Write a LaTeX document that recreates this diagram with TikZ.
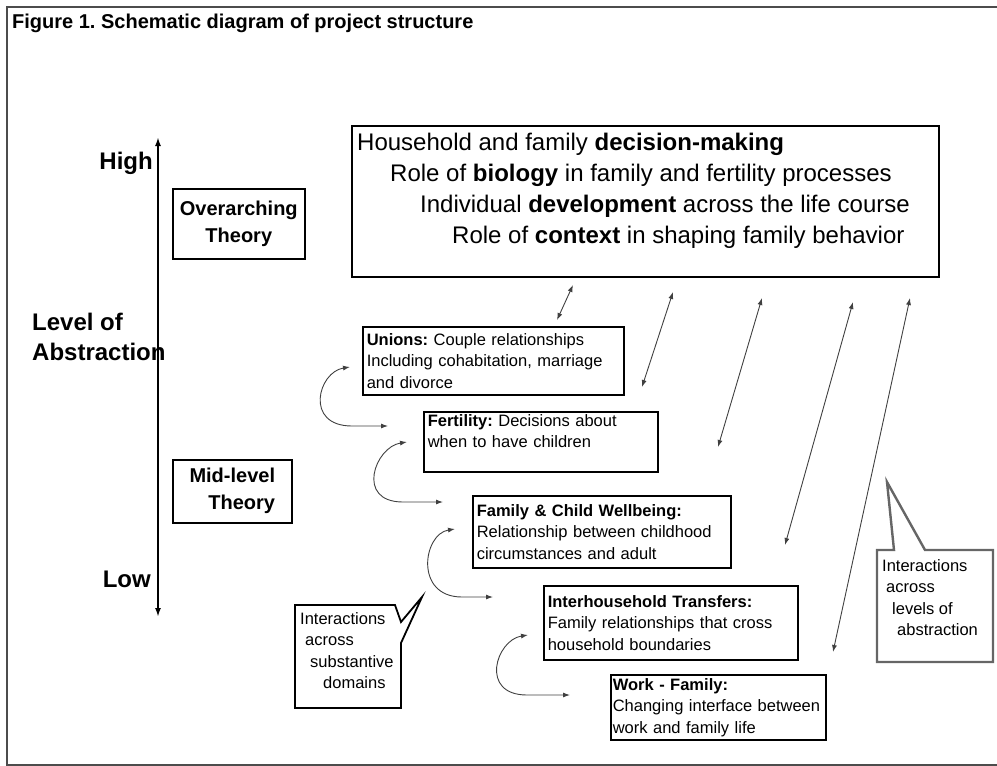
\documentclass[tikz,border=0pt]{standalone}
\usepackage{fontspec}
\setmainfont{Liberation Sans}
\usetikzlibrary{positioning, arrows.meta}
\frenchspacing

\tikzset{
  box/.style={draw, line width=1.6pt, anchor=north west, align=left, inner xsep=4pt, inner ysep=0pt, font=\fontsize{16.5}{21.5}\selectfont},
  levelbox/.style={draw, line width=1.6pt, anchor=north west, inner sep=0pt, font=\bfseries\fontsize{20}{27}\selectfont},
  axislabel/.style={font=\bfseries\fontsize{24}{30}\selectfont, inner sep=0pt},
  link/.style={<->, >={Latex[length=7pt,width=5pt]}, line width=0.9pt, black!75},
  callout/.style={line width=1.8pt},
  callouttext/.style={anchor=north west, inner sep=0pt, align=left, font=\fontsize{16.5}{21.5}\selectfont},
}

\begin{document}
\begin{tikzpicture}[x=1pt, y=-1pt]
\useasboundingbox (0,0) rectangle (997,766);

% frame and title
\draw[line width=1.5pt, black!70] (997,7) -- (7,7) -- (7,765) -- (997,765);
\node[anchor=base west, inner sep=0pt, font=\bfseries\fontsize{20}{24}\selectfont] (title) at (12,28) {Figure 1. Schematic diagram of project structure};

% level axis
\coordinate (axtop) at (158,137);
\coordinate (axbot) at (158,617);
\draw[<->, >={Latex[length=9pt,width=6pt]}, line width=1.8pt] (axbot) -- (axtop);
\node[axislabel, anchor=base east] (high) at (153,169) {High};
\node[axislabel, anchor=base east] (low) at (151,587) {Low};
\node[axislabel, anchor=north west, align=left] (abstr) at (32,313) {Level of\\Abstraction};

\node[levelbox, minimum width=132pt, minimum height=70pt, align=center] (over) at (172,188) {Overarching\\Theory};
\node[levelbox, minimum width=119pt, minimum height=63pt, align=right] (mid) at (172,459) {Mid-level\\Theory};

% overarching theory
\node[draw, line width=2pt, anchor=north west, minimum width=587pt, minimum height=151pt, inner sep=0pt] (theory) at (351,125) {};
\node[below right=8pt and 6pt of theory.north west, anchor=north west, inner sep=0pt, align=left, font=\fontsize{24}{31}\selectfont] (theorytext) {Household and family \textbf{decision-making}\\
  \hspace*{33pt}Role of \textbf{biology} in family and fertility processes\\
  \hspace*{63pt}Individual \textbf{development} across the life course\\
  \hspace*{95pt}Role of \textbf{context} in shaping family behavior};

% substantive domains
\node[box, text width=253pt, minimum height=68pt] (unions) at (362,326) {\textbf{Unions:} Couple relationships\\Including cohabitation, marriage\\and divorce};
\node[box, text width=226pt, minimum height=60pt] (fertility) at (423,411) {\textbf{Fertility:} Decisions about\\when to have children\\\mbox{}};
\node[box, text width=250pt, minimum height=72pt] (wellbeing) at (472,495) {\textbf{Family \& Child Wellbeing:}\\Relationship between childhood\\circumstances and adult};
\node[box, text width=246pt, minimum height=74pt] (transfers) at (543,585) {\textbf{Interhousehold Transfers:}\\Family relationships that cross\\household boundaries};
\node[box, inner xsep=2pt, text width=211pt, minimum height=65pt] (work) at (610,674) {\textbf{Work - Family:}\\\mbox{Changing interface between}\\work and family life};

% interactions across domains
\foreach \i/\sx/\sy/\ex/\ey/\tail in {1/350/367/388/426/36pt, 2/407/442/443/502/40pt, 3/455/529/493/597/31pt, 4/528/635/570/695/43pt} {
  \coordinate (top\i) at (\sx,\sy);
  \coordinate (end\i) at (\ex,\ey);
  \draw[link] (top\i) .. controls +(-32,5) and +(-48,0) .. ([xshift=-\tail]end\i) -- (end\i);
}

% interactions across levels
\foreach [count=\i] \ax/\ay/\bx/\by in {573/285/557/320, 673/292/642/387, 762/298/718/447, 853/302/785/545, 910/298/833/652} {
  \coordinate (up\i) at (\ax,\ay);
  \coordinate (dn\i) at (\bx,\by);
  \draw[link] (up\i) -- (dn\i);
}

% callouts
\draw[callout] (295,605) -- (395,605) -- (401,622) -- (422,597) -- (401,643) -- (401,708) -- (295,708) -- cycle;
\node[callouttext] (substantive) at (300,612) {Interactions\\\hspace*{5pt}across\\\hspace*{10pt}substantive\\\hspace*{23pt}domains};

\draw[callout, black!60, line width=2.4pt] (877,550) -- (894,550) -- (887,482) -- (925,550) -- (993,550) -- (993,662) -- (877,662) -- cycle;
\node[callouttext] (levels) at (882,559) {Interactions\\\hspace*{4pt}across\\\hspace*{10pt}levels of\\\hspace*{15pt}abstraction};

\end{tikzpicture}
\end{document}
